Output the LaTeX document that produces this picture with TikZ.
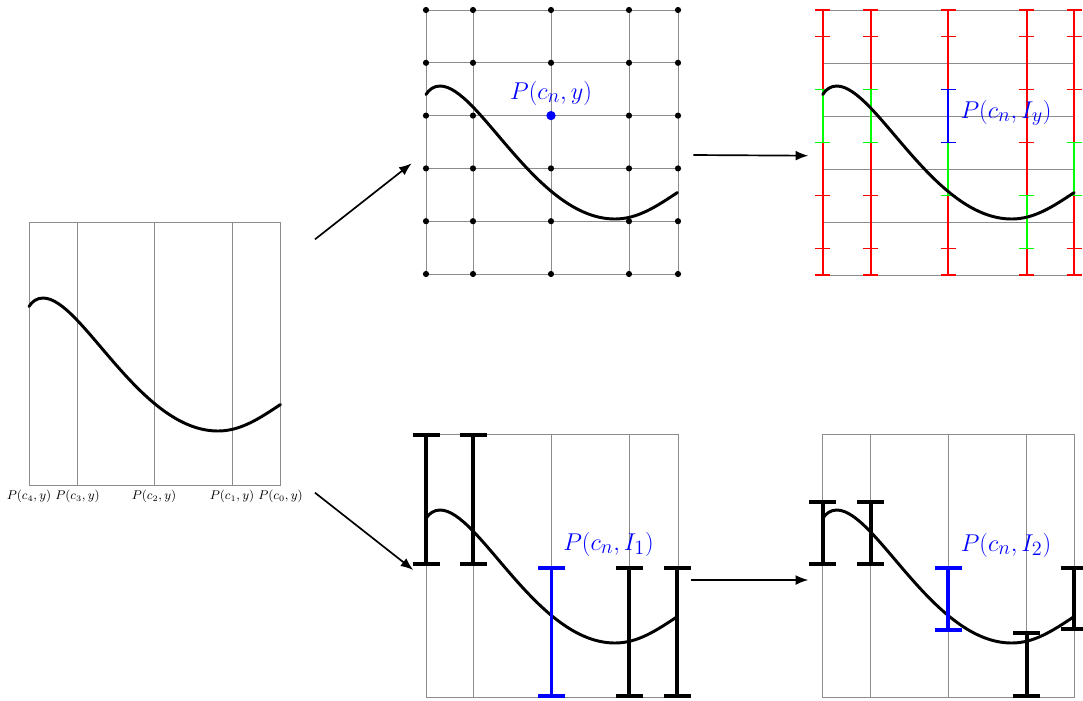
\documentclass[tikz,border=0pt]{standalone}
\usetikzlibrary{arrows.meta}
\tikzset{
  gridline/.style={draw=black!45, line width=0.6pt},
  curveline/.style={draw=black, line width=2.1pt, line cap=round},
  arr/.style={draw=black, line width=1.2pt, -{Latex[length=9pt,width=7pt]}},
  bigbar/.style={draw=black, line width=2.8pt},
  bigbluebar/.style={draw=blue, line width=2.8pt},
  redbar/.style={draw=red, line width=1.3pt},
  greenbar/.style={draw=green, line width=1.3pt},
  bluebar/.style={draw=blue, line width=1.2pt},
  bluelabel/.style={text=blue, font=\fontsize{19}{22}\selectfont, inner sep=0pt},
  smalllabel/.style={font=\fontsize{8.7}{10}\selectfont, inner sep=0pt},
  blackdot/.style={fill=black},
  bluedot/.style={fill=blue},
}
\newcommand\drawcurve[2]{\draw[curveline,shift={(#1,#2)}] (0,84.5) .. controls (3,79.5) and (8,76) .. (14,76) .. controls (53,76) and (110.6,209) .. (189,209) .. controls (212,209) and (231,196) .. (251.5,182.5);}
\newcommand\ibar[5]{\draw[#1] ({#2-#5},#3) -- ({#2+#5},#3) (#2,#3) -- (#2,#4) ({#2-#5},#4) -- ({#2+#5},#4);}
\begin{document}
\begin{tikzpicture}[x=0.025cm,y=-0.025cm]
\useasboundingbox (0,0) rectangle (1083,700);

% ---------- left panel ----------
\draw[gridline] (29,222) rectangle (280,485);
\foreach \x in {77,154,232} \draw[gridline] (\x,222) -- (\x,485);
\drawcurve{29}{222}
\node[smalllabel] (l4) at (29,496.5) {$P(c_4,y)$};
\node[smalllabel] (l3) at (77.5,496.5) {$P(c_3,y)$};
\node[smalllabel] (l2) at (154,496.5) {$P(c_2,y)$};
\node[smalllabel] (l1) at (232,496.5) {$P(c_1,y)$};
\node[smalllabel] (l0) at (280.5,496.5) {$P(c_0,y)$};

% ---------- top middle panel ----------
\foreach \y in {10,62.8,115.6,168.4,221.2,274} \draw[gridline] (426,\y) -- (678,\y);
\foreach \x in {426,473,551,629,678} \draw[gridline] (\x,10) -- (\x,274);
\drawcurve{426}{10}
\foreach \x in {426,473,551,629,678}
  \foreach \y in {10,62.8,115.6,168.4,221.2,274}
    \fill[blackdot] (\x,\y) circle (2.2pt);
\fill[bluedot] (551,115.6) circle (3.3pt);
\node[bluelabel] (lty) at (551,93) {$P(c_n,y)$};

% ---------- top right panel ----------
\foreach \y in {10,63,116,169,222,275} \draw[gridline] (822.7,\y) -- (1074,\y);
\foreach \x in {822.7,870.7,948.3,1026.7,1074} {
  \draw[redbar] (\x,10) -- (\x,275);
  \foreach \y in {10,36.5,89.5,142.5,195.5,248.5,275}
    \draw[redbar] ({\x-7.5},\y) -- ({\x+7.5},\y);
}
\ibar{greenbar}{822.7}{89.5}{142.5}{7.5}
\ibar{greenbar}{870.7}{89.5}{142.5}{7.5}
\ibar{greenbar}{948.3}{142.5}{195.5}{7.5}
\ibar{greenbar}{1026.7}{195.5}{248.5}{7.5}
\ibar{greenbar}{1074}{142.5}{195.5}{7.5}
\ibar{bluebar}{948.3}{89.5}{142.5}{7.5}
\drawcurve{822.7}{10}
\node[bluelabel] (lIy) at (1006,113) {$P(c_n,I_y)$};

% ---------- bottom middle panel ----------
\draw[gridline] (426,434) rectangle (678,697);
\foreach \x in {473,551,629} \draw[gridline] (\x,434) -- (\x,697);
\drawcurve{426}{434}
\ibar{bigbar}{426}{435}{564}{13.5}
\ibar{bigbar}{473}{435}{564}{13.5}
\ibar{bigbluebar}{551.5}{568}{696}{13.5}
\ibar{bigbar}{629}{568}{696}{13.5}
\ibar{bigbar}{677}{568}{696}{13.5}
\node[bluelabel] (lI1) at (608.5,544) {$P(c_n,I_1)$};

% ---------- bottom right panel ----------
\draw[gridline] (822.7,434) rectangle (1074,697);
\foreach \x in {870.7,948.3,1026.7} \draw[gridline] (\x,434) -- (\x,697);
\drawcurve{822.7}{434}
\ibar{bigbar}{822.7}{501.7}{564}{13.5}
\ibar{bigbar}{870.7}{501.7}{564}{13.5}
\ibar{bigbluebar}{948.3}{567.7}{630}{13.5}
\ibar{bigbar}{1026.7}{633.3}{696}{13.5}
\ibar{bigbar}{1074}{567.7}{629.3}{13.5}
\node[bluelabel] (lI2) at (1006,545) {$P(c_n,I_2)$};

% ---------- arrows ----------
\coordinate (a1s) at (315,239.3);
\coordinate (a1e) at (411.7,163.3);
\coordinate (a2s) at (693.3,155);
\coordinate (a2e) at (808.3,155.7);
\coordinate (a3s) at (315,492.7);
\coordinate (a3e) at (413.3,570);
\coordinate (a4s) at (691,580);
\coordinate (a4e) at (808.3,580);
\draw[arr] (a1s) -- (a1e);
\draw[arr] (a2s) -- (a2e);
\draw[arr] (a3s) -- (a3e);
\draw[arr] (a4s) -- (a4e);
\end{tikzpicture}
\end{document}
